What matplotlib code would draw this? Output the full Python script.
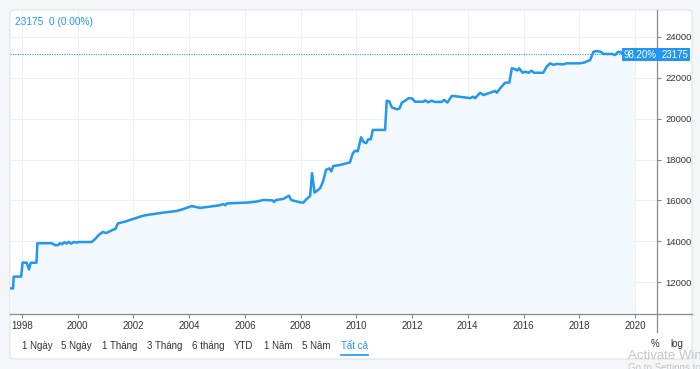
import matplotlib
matplotlib.use("Agg")
import matplotlib.pyplot as plt
from matplotlib.lines import Line2D
from matplotlib.patches import FancyBboxPatch, Rectangle

plt.rcParams['font.family'] = ['Liberation Sans', 'DejaVu Sans']

years = [1997.57, 1997.68, 1997.70, 1997.97, 1998.02, 1998.17, 1998.25, 1998.31, 1998.52, 1998.55,
         1999.07, 1999.20, 1999.30, 1999.36, 1999.43, 1999.52, 1999.60, 1999.68, 1999.76, 1999.86,
         1999.95, 2000.05, 2000.50, 2000.62, 2000.75, 2000.90, 2001.02, 2001.25, 2001.35, 2001.44,
         2001.72, 2001.94, 2002.17, 2002.30, 2002.47, 2003.07, 2003.55, 2003.80, 2004.09, 2004.39,
         2004.87, 2005.10, 2005.22, 2005.30, 2005.35, 2006.07, 2006.42, 2006.66, 2006.98, 2007.05,
         2007.10, 2007.38, 2007.58, 2007.66, 2007.98, 2008.10, 2008.20, 2008.34, 2008.41, 2008.50,
         2008.70, 2008.81, 2008.91, 2009.03, 2009.10, 2009.17, 2009.41, 2009.65, 2009.77, 2009.87,
         2009.95, 2010.05, 2010.17, 2010.25, 2010.35, 2010.43, 2010.52, 2010.59, 2011.03, 2011.09,
         2011.18, 2011.27, 2011.45, 2011.55, 2011.63, 2011.75, 2011.87, 2011.99, 2012.11, 2012.41,
         2012.47, 2012.58, 2012.70, 2012.82, 2013.06, 2013.15, 2013.27, 2013.42, 2013.48, 2013.96,
         2014.08, 2014.18, 2014.26, 2014.44, 2014.56, 2014.80, 2014.98, 2015.04, 2015.16, 2015.34,
         2015.49, 2015.58, 2015.70, 2015.78, 2015.84, 2015.97, 2016.06, 2016.18, 2016.29, 2016.37,
         2016.71, 2016.83, 2016.95, 2017.07, 2017.19, 2017.43, 2017.54, 2018.03, 2018.20, 2018.39,
         2018.51, 2018.63, 2018.77, 2018.87, 2019.17, 2019.29, 2019.39, 2019.48, 2019.54, 2019.97]
rate = [11690, 11690, 12260, 12270, 12950, 12950, 12620, 12940, 12950, 13900,
        13900, 13800, 13810, 13900, 13850, 13950, 13880, 13970, 13880, 13960,
        13930, 13960, 13960, 14100, 14300, 14450, 14400, 14550, 14600, 14870,
        14970, 15070, 15170, 15230, 15280, 15400, 15480, 15580, 15720, 15630,
        15720, 15760, 15820, 15760, 15850, 15890, 15940, 16020, 16000, 15920,
        16010, 16070, 16230, 16020, 15900, 15890, 16050, 16210, 17330, 16380,
        16590, 16950, 17490, 17570, 17420, 17680, 17730, 17820, 17860, 18300,
        18430, 18400, 19090, 18870, 18800, 18990, 18990, 19450, 19450, 20880,
        20850, 20560, 20460, 20500, 20780, 20880, 21000, 21000, 20830, 20830,
        20900, 20800, 20880, 20820, 20820, 20920, 20790, 21110, 21110, 21030,
        21000, 21080, 21000, 21270, 21160, 21270, 21360, 21270, 21490, 21760,
        21770, 22470, 22420, 22360, 22470, 22250, 22300, 22250, 22350, 22250,
        22250, 22550, 22710, 22640, 22680, 22660, 22710, 22710, 22760, 22870,
        23280, 23310, 23280, 23170, 23170, 23120, 23270, 23270, 23170, 23175]

last_value = 23175
change_text = "0 (0.00%)"
pct_label = "98.20%"
x_ticks = list(range(1998, 2021, 2))
y_ticks = list(range(12000, 24001, 2000))
buttons = ["1 Ngày", "5 Ngày", "1 Tháng", "3 Tháng", "6 tháng", "YTD", "1 Năm", "5 Năm", "Tất cả"]
button_x = [22, 61, 102, 147, 192, 234, 264, 302, 341]

W, H = 700, 369
BLUE = "#2196f3"


def fx(x):
    return x / W


def fy(y):
    return 1 - y / H


fig = plt.figure(figsize=(7, 3.69), dpi=100, facecolor="#f4f6f9")

# white card behind everything
card = FancyBboxPatch((fx(10), fy(359)), fx(682), 349 / H,
                      boxstyle="round,pad=0,rounding_size=0.008",
                      transform=fig.transFigure, facecolor="white",
                      edgecolor="#dfe3e8", lw=0.8, zorder=-10)
fig.patches.append(card)

ax = fig.add_axes([fx(10), fy(314), fx(647), (314 - 10) / H])
ax.set_facecolor("none")
ax.plot(years, rate, color=BLUE, lw=1.8, zorder=3, solid_joinstyle="round")
ax.fill_between(years, rate, 0, color="#f2f8fe", zorder=1)
ax.axhline(last_value, color=BLUE, lw=0.8, ls=(0, (1, 1.2)), zorder=2)

ax.set_xlim(1997.569, 2020.79)
ax.set_ylim(10435, 25322)
ax.set_xticks(x_ticks)
ax.set_xticklabels([str(t) for t in x_ticks])
ax.set_yticks(y_ticks)
ax.set_yticklabels([str(t) for t in y_ticks])
ax.yaxis.tick_right()
ax.tick_params(axis="x", length=3, color="#888888", labelsize=7, labelcolor="#333333", pad=2)
ax.tick_params(axis="y", length=3, color="#888888", labelsize=6.8, labelcolor="#333333", pad=3)
ax.grid(color="#eceff3", lw=0.8, zorder=0)
ax.set_axisbelow(True)
for s in ax.spines.values():
    s.set_visible(False)

# axis lines
fig.lines.append(Line2D([fx(10), fx(692)], [fy(314), fy(314)], transform=fig.transFigure,
                        color="#8a8a8a", lw=0.9))
fig.lines.append(Line2D([fx(657), fx(657)], [fy(10), fy(332)], transform=fig.transFigure,
                        color="#8a8a8a", lw=0.9))

# price label
fig.patches.append(Rectangle((fx(622), fy(61)), fx(68), 13 / H, transform=fig.transFigure,
                             facecolor=BLUE, edgecolor="none", zorder=5))
fig.text(fx(639.5), fy(54.5), pct_label, color="white", fontsize=7, ha="center", va="center", zorder=6)
fig.text(fx(675), fy(54.5), str(last_value), color="white", fontsize=7, ha="center", va="center", zorder=6)

# header
fig.text(fx(15), fy(22), f"{last_value}  {change_text}", color=BLUE, fontsize=7.3, va="center")

# range buttons
for lab, bx in zip(buttons, button_x):
    c = BLUE if lab == "Tất cả" else "#333333"
    fig.text(fx(bx), fy(346), lab, color=c, fontsize=7, va="center")
fig.lines.append(Line2D([fx(341), fx(368)], [fy(354.5), fy(354.5)], transform=fig.transFigure,
                        color=BLUE, lw=1.2))
fig.text(fx(651), fy(344), "%", color="#333333", fontsize=7, va="center")
fig.text(fx(670), fy(344), "log", color="#333333", fontsize=7, va="center")

# windows watermark
fig.text(fx(628), fy(356), "Activate Windows", color="#b8b8b8", fontsize=9.5, va="center", alpha=0.8)
fig.text(fx(628), fy(368), "Go to Settings to activate Windows.", color="#b8b8b8", fontsize=7,
         va="center", alpha=0.8)

fig.savefig("out.png", dpi=100, facecolor=fig.get_facecolor())
